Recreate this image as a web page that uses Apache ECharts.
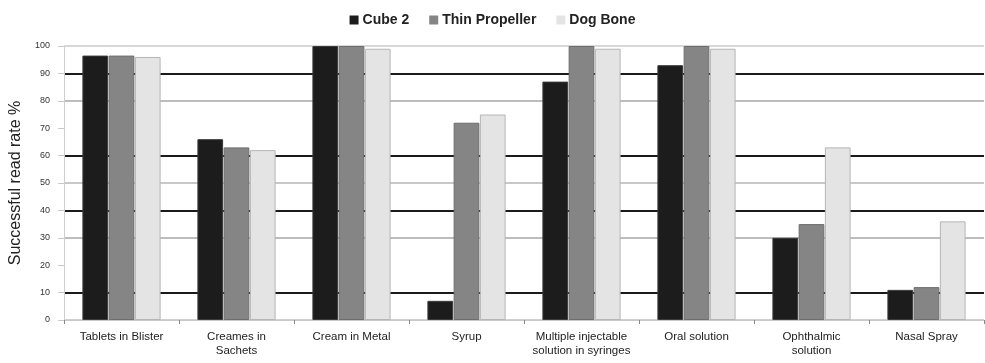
<!DOCTYPE html>
<html>
<head>
<meta charset="utf-8">
<script src="https://cdn.jsdelivr.net/npm/echarts@6/dist/echarts.min.js"></script>
<style>
  html, body { margin: 0; padding: 0; background: #fff; }
  #chart { width: 985px; height: 363px; }
</style>
</head>
<body>
<div id="chart"></div>
<script>
// Dosage forms tested
const categories = [
  'Tablets in Blister',
  'Creames in\nSachets',
  'Cream in Metal',
  'Syrup',
  'Multiple injectable\nsolution in syringes',
  'Oral solution',
  'Ophthalmic\nsolution',
  'Nasal Spray'
];

// Successful read rate (%) per tag design
const cube2 = [96.5, 66, 100, 7, 87, 93, 30, 11];
const thinPropeller = [96.5, 63, 100, 72, 100, 100, 35, 12];
const dogBone = [96, 62, 99, 75, 99, 99, 63, 36];

const yTicks = [0, 10, 20, 30, 40, 50, 60, 70, 80, 90, 100];

// One colour per horizontal grid line, from 0 up to 100
const gridColors = ['#d0d0d0', '#1a1a1a', '#ffffff', '#bdbdbd', '#1a1a1a', '#c8c8c8',
                    '#1a1a1a', '#ffffff', '#bdbdbd', '#1a1a1a', '#d8d8d8'];
const tickColors = ['#d0d0d0', '#1a1a1a', '#d0d0d0', '#d0d0d0', '#1a1a1a', '#d0d0d0',
                    '#1a1a1a', '#d0d0d0', '#d0d0d0', '#1a1a1a', '#d0d0d0'];

const chart = echarts.init(document.getElementById('chart'), null, { renderer: 'canvas' });

function barSeries(name, data, color, border) {
  return {
    name: name,
    type: 'bar',
    data: data,
    barGap: '2%',
    barCategoryGap: '32%',
    itemStyle: { color: color, borderColor: border, borderWidth: 1 }
  };
}

chart.setOption({
  animation: false,
  backgroundColor: '#ffffff',
  textStyle: { fontFamily: 'Liberation Sans, Arial, sans-serif' },
  legend: {
    top: 8,
    left: 'center',
    itemWidth: 9,
    itemHeight: 9,
    itemGap: 20,
    icon: 'rect',
    itemStyle: { borderWidth: 0 },
    textStyle: { fontSize: 14, fontWeight: 'bold', color: '#222', padding: [0, 0, 0, -1] },
    data: ['Cube 2', 'Thin Propeller', 'Dog Bone']
  },
  grid: { left: 63, right: 1, top: 46, bottom: 43, containLabel: false },
  xAxis: {
    type: 'category',
    data: categories,
    axisLine: { lineStyle: { color: '#c8c8c8', width: 1 } },
    axisTick: { show: true, length: 4, lineStyle: { color: '#888' } },
    axisLabel: { interval: 0, fontSize: 11.5, color: '#222', lineHeight: 14, margin: 10 }
  },
  yAxis: {
    type: 'value',
    min: yTicks[0],
    max: yTicks[yTicks.length - 1],
    interval: 10,
    name: 'Successful read rate %',
    nameLocation: 'middle',
    nameGap: 40,
    nameTextStyle: { fontSize: 16, color: '#222' },
    axisLine: { show: true, lineStyle: { color: '#cfcfcf' } },
    axisTick: { show: true, length: 6, lineStyle: { color: tickColors } },
    axisLabel: { fontSize: 9, color: '#333', margin: 14 },
    splitLine: { show: true, lineStyle: { color: gridColors, width: 2 } }
  },
  series: [
    barSeries('Cube 2', cube2, '#1c1c1c', '#3a3a3a'),
    barSeries('Thin Propeller', thinPropeller, '#858585', '#6e6e6e'),
    barSeries('Dog Bone', dogBone, '#e4e4e4', '#b5b5b5')
  ]
});
</script>
</body>
</html>
